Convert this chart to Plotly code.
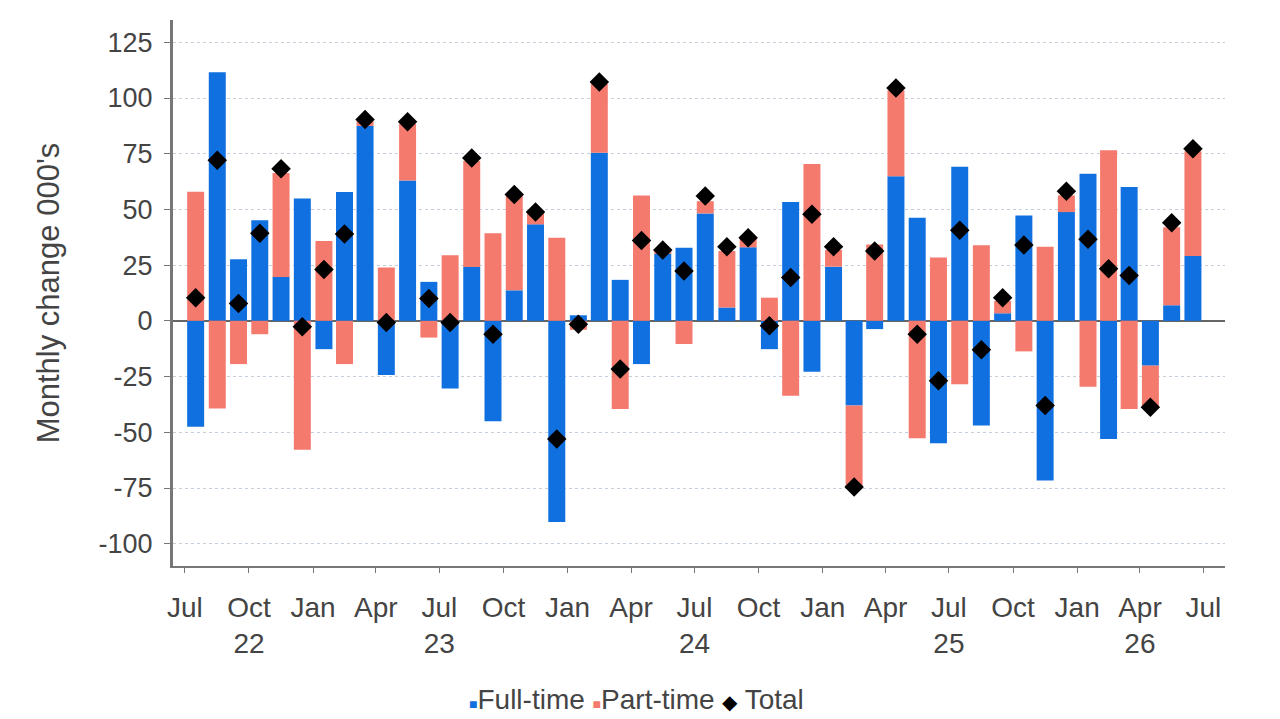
import pandas as pd
import plotly.graph_objects as go

# ---- data (thousands, monthly change) ----
months = pd.date_range("2022-07-01", periods=48, freq="MS")

full_time = [-47.5, 111.5, 27.6, 45.2, 19.7, 54.9, -12.7, 57.8, 87.5, -24.3, 63.0, 17.5,
             -30.3, 24.2, -45.0, 13.7, 43.3, -90.3, 2.5, 75.4, 18.4, -19.4, 30.0, 32.8,
             48.2, 6.0, 33.0, -12.7, 53.3, -22.8, 24.3, -38.0, -3.7, 64.9, 46.3, -54.9,
             69.1, -47.0, 3.4, 47.3, -71.6, 48.8, 66.0, -53.0, 60.1, -20.1, 7.0, 29.1]

part_time = [57.9, -39.3, -19.4, -6.0, 46.7, -57.8, 35.8, -19.4, 2.5, 23.9, 25.5, -7.5,
             29.4, 47.5, 39.3, 42.3, 5.0, 37.3, -4.0, 31.0, -39.6, 56.3, 1.5, -10.4,
             5.5, 25.3, 4.0, 10.4, -33.6, 70.4, 7.5, -36.6, 34.3, 38.5, -52.7, 28.4,
             -28.4, 33.9, 5.5, -13.7, 33.3, 7.5, -29.6, 76.6, -39.6, -18.7, 35.0, 47.0]

total = [10.4, 72.1, 7.8, 39.3, 68.2, -2.7, 23.1, 39.0, 90.3, -0.7, 89.3, 10.0,
         -0.7, 73.1, -6.0, 56.7, 48.8, -53.0, -1.5, 107.2, -21.6, 36.1, 31.8, 22.4,
         56.0, 33.3, 37.3, -2.2, 19.4, 47.8, 33.3, -74.6, 31.3, 104.5, -6.0, -26.9,
         40.7, -13.0, 10.4, 34.0, -38.0, 58.2, 36.6, 23.4, 20.4, -38.8, 44.0, 77.2]

tick_dates = pd.date_range("2022-07-01", "2026-07-01", freq="QS-JAN")
tick_text = ["Jul", "Oct<br>22", "Jan", "Apr", "Jul<br>23", "Oct", "Jan", "Apr", "Jul<br>24",
             "Oct", "Jan", "Apr", "Jul<br>25", "Oct", "Jan", "Apr<br>26", "Jul"]
y_ticks = [-100, -75, -50, -25, 0, 25, 50, 75, 100, 125]
y_tick_text = ["-100", "-75", "-50", "-25", "0", "25", "50", "75", "100", "125"]

BLUE = "#1070E0"
SALMON = "#F47A6E"
FONT = "Liberation Sans, Arial, sans-serif"
bar_width = 0.8 * 30.44 * 86400000

fig = go.Figure()
fig.add_trace(go.Bar(x=months, y=full_time, name="Full-time", marker_color=BLUE,
                     xperiod="M1", xperiodalignment="middle", width=bar_width,
                     marker_line_width=0))
fig.add_trace(go.Bar(x=months, y=part_time, name="Part-time", marker_color=SALMON,
                     xperiod="M1", xperiodalignment="middle", width=bar_width,
                     marker_line_width=0))
fig.add_trace(go.Scatter(x=months, y=total, name="Total", mode="markers",
                         xperiod="M1", xperiodalignment="middle",
                         marker=dict(symbol="diamond", size=15, color="black")))

legend_text = (f"<span style='color:{BLUE};font-size:14px'>■</span>Full-time "
               f"<span style='color:{SALMON};font-size:14px'>■</span>Part-time "
               "<span style='color:black;font-size:20px'>◆</span> Total")

fig.update_layout(
    width=1280, height=719,
    margin=dict(l=173, r=55, t=20, b=153),
    paper_bgcolor="white", plot_bgcolor="white",
    barmode="relative",
    showlegend=False,
    font=dict(family=FONT, size=26, color="#444"),
    annotations=[dict(text=legend_text, x=0.441, y=-0.2436, xref="paper", yref="paper",
                      xanchor="center", yanchor="middle", showarrow=False,
                      font=dict(family=FONT, size=28, color="#444"))],
)
fig.update_xaxes(
    type="date",
    range=["2022-06-14", "2026-08-01"],
    tickvals=tick_dates, ticktext=tick_text,
    showgrid=False, showline=True, linecolor="#777", linewidth=2,
    ticks="outside", ticklen=5, tickcolor="#777", ticklabelstandoff=10,
    tickfont=dict(size=28, color="#444"),
)
fig.update_yaxes(
    range=[-110, 135],
    tickvals=y_ticks, ticktext=y_tick_text,
    showgrid=True, gridcolor="#C5CFDB", griddash="dot", gridwidth=1,
    zeroline=True, zerolinecolor="#666", zerolinewidth=2,
    showline=True, linecolor="#777", linewidth=3,
    ticks="outside", ticklen=6, tickcolor="#777", ticklabelstandoff=6,
    tickfont=dict(size=27, color="#444"),
    title=dict(text="Monthly change 000's", standoff=30,
               font=dict(size=31, color="#444")),
)

fig.write_html("out.html")
